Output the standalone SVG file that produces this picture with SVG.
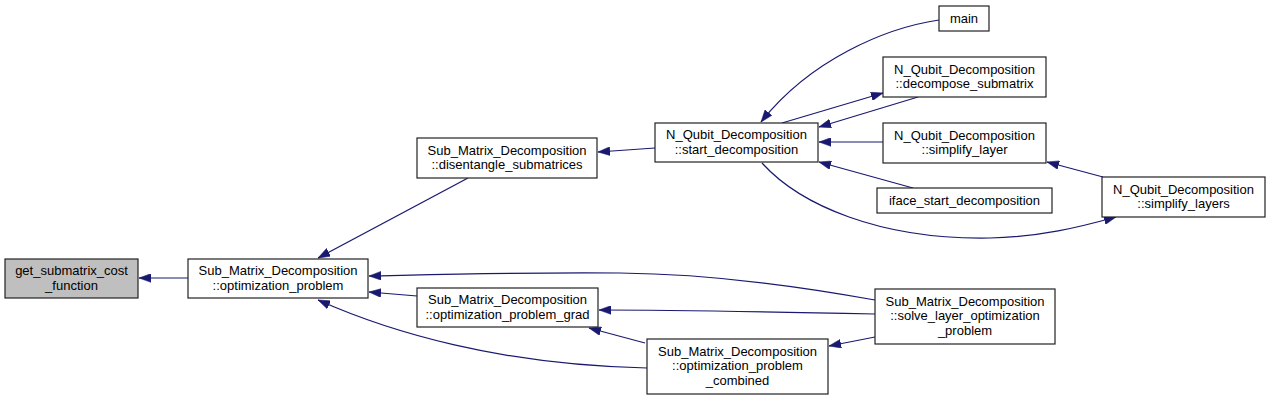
<svg xmlns="http://www.w3.org/2000/svg" width="1271" height="400" viewBox="0 0 1271 400">
<defs>
<marker id="arr" markerUnits="userSpaceOnUse" markerWidth="12" markerHeight="9" viewBox="0 0 11 8" refX="11" refY="4" orient="auto">
<path d="M0,0L11,4L0,8z" fill="#191970" stroke="#191970" stroke-width="0.5"/>
</marker>
</defs>
<style>
.n rect{fill:#ffffff;stroke:#222222;stroke-width:1.2}
.n.start rect{fill:#bfbfbf}
.n text{font-family:"Liberation Sans",Arial,Helvetica,sans-serif;font-size:13px;fill:#000;text-anchor:middle}
#edges path{fill:none;stroke:#191970;stroke-width:1.2;marker-end:url(#arr)}
</style>
<rect width="1271" height="400" fill="#ffffff"/>
<g id="edges">
<path d="M188,278 L139,278"/>
<path d="M468,178 L318,258"/>
<path d="M655,148 L598,152"/>
<path d="M939,20 C885,28 810,60 761,122"/>
<path d="M782,123 L883,93"/>
<path d="M918,97 L819,127"/>
<path d="M883,142 L819,142"/>
<path d="M913,188 L819,162"/>
<path d="M762,163 C800,205 880,240 990,238 C1040,237 1080,227 1116,217"/>
<path d="M1103,177 L1047,162"/>
<path d="M875,300 C820,290 720,274 620,273 C520,272 420,275 369,276"/>
<path d="M417,296 L369,292"/>
<path d="M647,368 C500,365 390,332 318,300"/>
<path d="M875,314 C780,312 680,310 599,310"/>
<path d="M645,343 L589,328"/>
<path d="M875,337 L829,346"/>
</g>
<g id="get_submatrix_cost_function" class="n start">
<rect x="5" y="259" width="133" height="39"/>
<text x="71.5" y="275">get_submatrix_cost</text>
<text x="71.5" y="289.5">_function</text>
</g>
<g id="optimization_problem" class="n">
<rect x="188" y="259" width="180" height="39"/>
<text x="278" y="275">Sub_Matrix_Decomposition</text>
<text x="278" y="289.5">::optimization_problem</text>
</g>
<g id="disentangle_submatrices" class="n">
<rect x="417" y="138" width="180" height="40"/>
<text x="507" y="154.5">Sub_Matrix_Decomposition</text>
<text x="507" y="169">::disentangle_submatrices</text>
</g>
<g id="start_decomposition" class="n">
<rect x="655" y="123" width="163" height="39"/>
<text x="736.5" y="139">N_Qubit_Decomposition</text>
<text x="736.5" y="153.5">::start_decomposition</text>
</g>
<g id="optimization_problem_grad" class="n">
<rect x="417" y="288" width="181" height="39"/>
<text x="507.5" y="304">Sub_Matrix_Decomposition</text>
<text x="507.5" y="318.5">::optimization_problem_grad</text>
</g>
<g id="optimization_problem_combined" class="n">
<rect x="647" y="339" width="181" height="55"/>
<text x="737.5" y="355.5">Sub_Matrix_Decomposition</text>
<text x="737.5" y="370">::optimization_problem</text>
<text x="737.5" y="384.5">_combined</text>
</g>
<g id="main" class="n">
<rect x="939" y="6" width="50" height="25"/>
<text x="964" y="23">main</text>
</g>
<g id="decompose_submatrix" class="n">
<rect x="883" y="57" width="163" height="40"/>
<text x="964.5" y="73.5">N_Qubit_Decomposition</text>
<text x="964.5" y="88">::decompose_submatrix</text>
</g>
<g id="simplify_layer" class="n">
<rect x="883" y="123" width="163" height="40"/>
<text x="964.5" y="139.5">N_Qubit_Decomposition</text>
<text x="964.5" y="154">::simplify_layer</text>
</g>
<g id="iface_start_decomposition" class="n">
<rect x="877" y="188" width="175" height="25"/>
<text x="964.5" y="205">iface_start_decomposition</text>
</g>
<g id="simplify_layers" class="n">
<rect x="1102" y="177" width="163" height="40"/>
<text x="1183.5" y="193.5">N_Qubit_Decomposition</text>
<text x="1183.5" y="208">::simplify_layers</text>
</g>
<g id="solve_layer_optimization_problem" class="n">
<rect x="875" y="289" width="180" height="55"/>
<text x="965" y="305.5">Sub_Matrix_Decomposition</text>
<text x="965" y="320">::solve_layer_optimization</text>
<text x="965" y="334.5">_problem</text>
</g>
</svg>
